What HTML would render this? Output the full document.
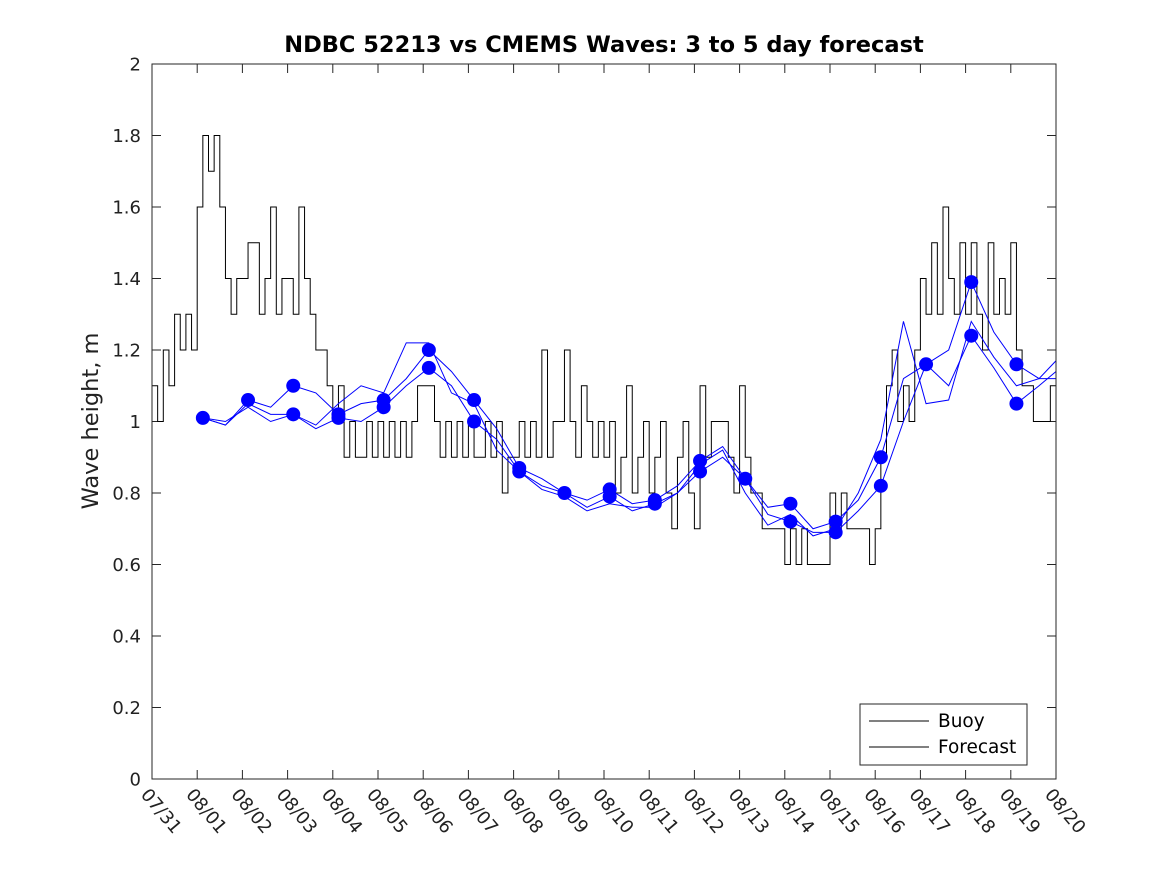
<!DOCTYPE html>
<html><head><meta charset="utf-8"><style>
body{margin:0;background:#fff}
svg{font-family:"DejaVu Sans","Liberation Sans",sans-serif}
</style></head><body>
<svg id="chart" width="1167" height="875" xmlns="http://www.w3.org/2000/svg">
<rect width="1167" height="875" fill="#fff"/>
<text x="604" y="52" text-anchor="middle" font-size="22.5" font-weight="bold" fill="#000">NDBC 52213 vs CMEMS Waves: 3 to 5 day forecast</text>
<text transform="translate(98,421) rotate(-90)" text-anchor="middle" font-size="22.5" fill="#222">Wave height, m</text>
<g id="grid"></g>
<g id="series"></g>
<rect x="152" y="64" width="904" height="715" fill="none" stroke="#262626" stroke-width="1"/>
<g>
<rect x="860" y="704" width="167" height="61" fill="#fff" stroke="#262626"/>
<line x1="869" y1="721" x2="929" y2="721" stroke="#000"/>
<text x="938" y="727" font-size="18.5" fill="#000">Buoy</text>
<line x1="869" y1="747" x2="929" y2="747" stroke="#000"/>
<text x="938" y="753" font-size="18.5" fill="#000">Forecast</text>
</g>
</svg>
<script>
const yTicks=[0,0.2,0.4,0.6,0.8,1,1.2,1.4,1.6,1.8,2];
const xTickLabels=["07/31","08/01","08/02","08/03","08/04","08/05","08/06","08/07","08/08","08/09","08/10","08/11","08/12","08/13","08/14","08/15","08/16","08/17","08/18","08/19","08/20"];
// buoy values every 3 hours from 07/31 00:00
const buoy=[1.1,1.0,1.2,1.1,1.3,1.2,1.3,1.2,
1.6,1.8,1.7,1.8,1.6,1.4,1.3,1.4,
1.4,1.5,1.5,1.3,1.4,1.6,1.3,1.4,
1.4,1.3,1.6,1.4,1.3,1.2,1.2,1.1,
1.0,1.1,0.9,1.0,0.9,0.9,1.0,0.9,
1.0,0.9,1.0,0.9,1.0,0.9,1.0,1.1,
1.1,1.1,1.0,0.9,1.0,0.9,1.0,0.9,
1.0,0.9,0.9,1.0,0.9,1.0,0.8,0.9,
0.9,1.0,0.9,1.0,0.9,1.2,0.9,1.0,
1.0,1.2,1.0,0.9,1.1,1.0,0.9,1.0,
0.9,1.0,0.8,0.9,1.1,0.8,0.9,1.0,
0.8,0.9,1.0,0.8,0.7,0.9,1.0,0.8,
0.7,1.1,0.9,1.0,1.0,1.0,0.9,0.8,
1.1,0.9,0.8,0.8,0.7,0.7,0.7,0.7,
0.6,0.7,0.6,0.7,0.6,0.6,0.6,0.6,
0.8,0.7,0.8,0.7,0.7,0.7,0.7,0.6,
0.7,0.9,1.1,1.2,1.0,1.1,1.0,1.2,
1.4,1.3,1.5,1.3,1.6,1.4,1.3,1.5,
1.3,1.5,1.3,1.2,1.5,1.3,1.4,1.3,
1.5,1.2,1.1,1.1,1.0,1.0,1.0,1.1];
// forecasts every 12 h from 08/01 03:00
const fcA=[1.01,0.99,1.06,1.04,1.10,1.08,1.02,1.05,1.06,1.12,1.20,1.14,1.06,0.98,0.87,0.84,0.80,0.78,0.81,0.77,0.78,0.82,0.89,0.93,0.84,0.76,0.77,0.70,0.72,0.78,0.90,1.12,1.16,1.20,1.39,1.25,1.16,1.12,1.17];
const fcB=[1.01,0.99,1.05,1.02,1.02,0.98,1.01,1.00,1.04,1.10,1.15,1.10,1.00,0.95,0.86,0.82,0.80,0.76,0.79,0.75,0.77,0.80,0.86,0.90,0.84,0.74,0.72,0.69,0.69,0.75,0.82,1.00,1.16,1.10,1.24,1.15,1.05,1.10,1.14];
const fcC=[1.01,1.00,1.04,1.00,1.02,0.99,1.05,1.10,1.08,1.22,1.22,1.08,1.05,0.92,0.86,0.81,0.79,0.75,0.77,0.76,0.76,0.80,0.88,0.92,0.80,0.71,0.74,0.68,0.70,0.80,0.95,1.28,1.05,1.06,1.28,1.18,1.10,1.12,1.12];
const circleDays=[1,2,3,3,4,4,5,5,6,6,7,7,8,8,9,10,10,11,11,12,12,13,14,14,15,15,16,16,17,18,18,19,19];
const circleVals=[1.01,1.06,1.10,1.02,1.02,1.01,1.06,1.04,1.20,1.15,1.06,1.00,0.87,0.86,0.80,0.81,0.79,0.78,0.77,0.89,0.86,0.84,0.77,0.72,0.72,0.69,0.90,0.82,1.16,1.39,1.24,1.16,1.05];

const NS="http://www.w3.org/2000/svg";
const X=t=>152+t*45.2;
const Y=v=>779-v*357.5;
function mk(tag,attrs,parent){const e=document.createElementNS(NS,tag);for(const k in attrs)e.setAttribute(k,attrs[k]);parent.appendChild(e);return e;}
const grid=document.getElementById('grid'), ser=document.getElementById('series');
yTicks.forEach(v=>{
  const y=Y(v);
  const l1=mk('line',{x1:152,x2:161,y1:y,y2:y,stroke:'#262626'},grid);
  
  
  const l2=mk('line',{x1:1047,x2:1056,y1:y,y2:y,stroke:'#262626'},grid);
  
  
  const t=mk('text',{x:141,y:y+6.5,'text-anchor':'end','font-size':18,fill:'#222'},grid);
  t.textContent=String(Math.round(v*10)/10);
  
  
});
xTickLabels.forEach((s,i)=>{
  const x=X(i);
  const l1=mk('line',{x1:x,x2:x,y1:770,y2:779,stroke:'#262626'},grid);
  
  
  const l2=mk('line',{x1:x,x2:x,y1:64,y2:73,stroke:'#262626'},grid);
  
  
  const t=mk('text',{transform:`translate(${x-12},795) rotate(50)`,'font-size':18,fill:'#222'},grid);
  t.textContent=s;
  
  
});
// buoy step line
let d='';
buoy.forEach((v,i)=>{const x0=X(i/8),x1=X(Math.min((i+1)/8,20)),y=Y(v);d+=(i?'L':'M')+x0+' '+y+'L'+x1+' '+y;});
const bp=mk('path',{d:d,fill:'none',stroke:'#000','stroke-width':1},ser);


[fcA,fcB,fcC].forEach((arr,j)=>{
  const pts=arr.map((v,k)=>[Math.min(X(1.125+0.5*k),1056),Y(v)]);
  const p=mk('polyline',{points:pts.map(p=>p.join(',')).join(' '),fill:'none',stroke:'#0000ff','stroke-width':1},ser);
  
  
});
circleDays.forEach((dd,i)=>{
  const c=mk('circle',{cx:X(dd+0.125),cy:Y(circleVals[i]),r:7,fill:'#0000ff'},ser);
  
  
});
</script>
</body></html>
